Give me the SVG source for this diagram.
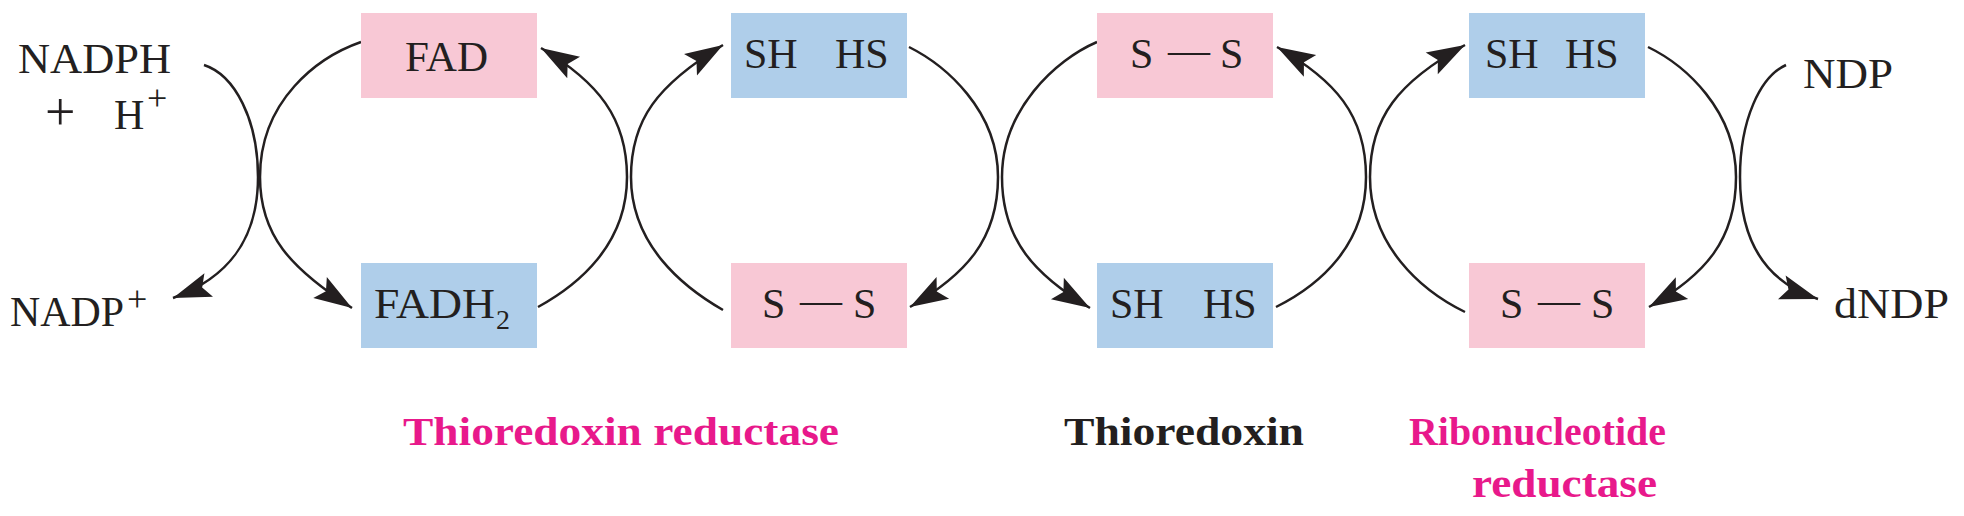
<svg xmlns="http://www.w3.org/2000/svg" width="1964" height="516" viewBox="0 0 1964 516">
<defs>
<style>
.pink{fill:#F8C8D5;}
.blue{fill:#AFCEEA;}
text{font-family:"Liberation Serif","Times New Roman",serif;font-size:42px;fill:#231F20;}
.lbl{font-weight:bold;font-size:40px;}
.mag{fill:#E8198B;}
.sup{font-size:36px;}
.conn{fill:none;stroke:#231F20;stroke-width:2.5;marker-end:url(#ah);}
</style>
<marker id="ah" markerUnits="userSpaceOnUse" viewBox="-40 -14 42 28" markerWidth="42" markerHeight="28" refX="0" refY="0" orient="auto">
<path d="M0,0 L-38,-12.5 L-31,0 L-38,12.5 Z" fill="#231F20"/>
</marker>
</defs>
<rect width="1964" height="516" fill="#ffffff"/>

<g id="connectors">
<path class="conn" d="M204,65 C235,75 258,120 258,177 C258,240 228,278 173,298"/>
<path class="conn" d="M361,42 C318,57 260,100 260,177 C260,235 290,268 352,308"/>
<path class="conn" d="M538,307 C578,285 627,245 627,177 C627,118 598,82 541,48"/>
<path class="conn" d="M723,310 C683,287 631,245 631,177 C631,120 657,85 723,45"/>
<path class="conn" d="M909,47 C945,65 998,110 998,177 C998,240 965,275 910,307"/>
<path class="conn" d="M1097,42 C1055,60 1002,110 1002,177 C1002,240 1035,275 1090,308"/>
<path class="conn" d="M1276,307 C1320,285 1366,245 1366,177 C1366,115 1335,80 1277,47"/>
<path class="conn" d="M1465,312 C1420,290 1370,245 1370,177 C1370,118 1398,82 1465,45"/>
<path class="conn" d="M1648,47 C1685,65 1736,110 1736,177 C1736,240 1705,275 1649,307"/>
<path class="conn" d="M1786,65 C1760,77 1740,120 1740,177 C1740,240 1765,282 1818,299"/>
</g>

<g id="nadph">
<text x="18" y="73" textLength="153" lengthAdjust="spacingAndGlyphs">NADPH</text>
<text x="45" y="130" style="font-size:54px">+</text>
<text x="114" y="129">H</text>
<text class="sup" x="147" y="110">+</text>
</g>
<g id="nadp">
<text x="10" y="326" textLength="114" lengthAdjust="spacingAndGlyphs">NADP</text>
<text class="sup" x="127" y="311">+</text>
</g>

<g id="fad">
<rect class="pink" x="361" y="13" width="176" height="85"/>
<text x="405" y="71" textLength="83" lengthAdjust="spacingAndGlyphs">FAD</text>
</g>
<g id="fadh2">
<rect class="blue" x="361" y="263" width="176" height="85"/>
<text x="374" y="318" textLength="121" lengthAdjust="spacingAndGlyphs">FADH</text>
<text x="496" y="329" style="font-size:28px">2</text>
</g>

<g id="trx-red-sh">
<rect class="blue" x="731" y="13" width="176" height="85"/>
<text y="68"><tspan x="744">SH</tspan><tspan x="835">HS</tspan></text>
</g>
<g id="trx-red-ss">
<rect class="pink" x="731" y="263" width="176" height="85"/>
<text y="318"><tspan x="762">S</tspan><tspan x="800" dy="-4">—</tspan><tspan x="853" dy="4">S</tspan></text>
</g>

<g id="trx-ss">
<rect class="pink" x="1097" y="13" width="176" height="85"/>
<text y="68"><tspan x="1130">S</tspan><tspan x="1168" dy="-4">—</tspan><tspan x="1220" dy="4">S</tspan></text>
</g>
<g id="trx-sh">
<rect class="blue" x="1097" y="263" width="176" height="85"/>
<text y="318"><tspan x="1110">SH</tspan><tspan x="1203">HS</tspan></text>
</g>

<g id="rnr-sh">
<rect class="blue" x="1469" y="13" width="176" height="85"/>
<text y="68"><tspan x="1485">SH</tspan><tspan x="1565">HS</tspan></text>
</g>
<g id="rnr-ss">
<rect class="pink" x="1469" y="263" width="176" height="85"/>
<text y="318"><tspan x="1500">S</tspan><tspan x="1538" dy="-4">—</tspan><tspan x="1591" dy="4">S</tspan></text>
</g>

<g id="ndp">
<text x="1803" y="88" textLength="90" lengthAdjust="spacingAndGlyphs">NDP</text>
</g>
<g id="dndp">
<text x="1834" y="318" textLength="115" lengthAdjust="spacingAndGlyphs">dNDP</text>
</g>

<g id="labels">
<text class="lbl mag" x="403" y="445" textLength="436" lengthAdjust="spacingAndGlyphs">Thioredoxin reductase</text>
<text class="lbl" x="1064" y="445" textLength="240" lengthAdjust="spacingAndGlyphs">Thioredoxin</text>
<text class="lbl mag" x="1409" y="445" textLength="257" lengthAdjust="spacingAndGlyphs">Ribonucleotide</text>
<text class="lbl mag" x="1472" y="497" textLength="185" lengthAdjust="spacingAndGlyphs">reductase</text>
</g>
</svg>
